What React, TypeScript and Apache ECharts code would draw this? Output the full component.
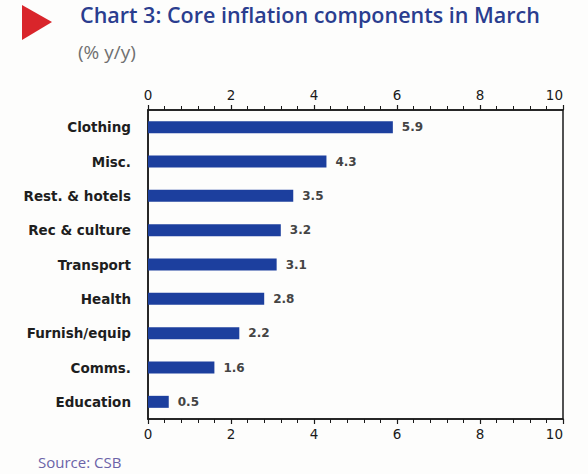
import React, { useEffect, useRef } from "react";
import * as echarts from "echarts";

const categories = ["Clothing", "Misc.", "Rest. & hotels", "Rec & culture", "Transport", "Health", "Furnish/equip", "Comms.", "Education"];
const values = [5.9, 4.3, 3.5, 3.2, 3.1, 2.8, 2.2, 1.6, 0.5];
const labels = ["5.9", "4.3", "3.5", "3.2", "3.1", "2.8", "2.2", "1.6", "0.5"];
const axisMin = 0;
const axisMax = 10;
const axisStep = 2;

export default function App() {
  const ref = useRef<HTMLDivElement>(null);
  useEffect(() => {
    const chart = echarts.init(ref.current!, null, { renderer: "svg" });
    const xAxisBase = (position: string) => ({
      type: "value",
      position,
      min: axisMin,
      max: axisMax,
      interval: axisStep,
      axisLine: { show: true, lineStyle: { color: "#1a1a1a", width: 1.5 } },
      axisTick: { show: true, length: 5, lineStyle: { color: "#1a1a1a", width: 1.2 } },
      minorTick: { show: true, splitNumber: 5, length: 4, lineStyle: { color: "#1a1a1a", width: 1 } },
      splitLine: { show: false },
      axisLabel: {
        color: "#1a1a1a",
        fontSize: 13.5,
        fontFamily: "DejaVu Sans, sans-serif",
        margin: 8,
        alignMaxLabel: "right",
      },
    });
    chart.setOption({
      animation: false,
      backgroundColor: "#fdfdfc",
      grid: {
        left: 148,
        right: 25,
        top: 110,
        bottom: 55,
        show: true,
        borderColor: "#1a1a1a",
        borderWidth: 1.5,
        backgroundColor: "transparent",
      },
      xAxis: [xAxisBase("top"), xAxisBase("bottom")],
      yAxis: {
        type: "category",
        data: categories,
        inverse: true,
        axisLine: { show: true, lineStyle: { color: "#1a1a1a", width: 1.5 } },
        axisTick: { show: false },
        axisLabel: {
          color: "#1e1e1e",
          fontSize: 13.5,
          fontWeight: "bold",
          fontFamily: "DejaVu Sans, sans-serif",
          margin: 17,
        },
      },
      series: [
        {
          type: "bar",
          data: values,
          barWidth: 12,
          itemStyle: { color: "#1c3f9e" },
          label: {
            show: true,
            position: "right",
            distance: 9,
            formatter: (p: any) => labels[p.dataIndex],
            color: "#444",
            fontSize: 12,
            fontWeight: "bold",
            fontFamily: "DejaVu Sans, sans-serif",
          },
        },
      ],
      graphic: [
        {
          type: "polygon",
          shape: { points: [[22, 5], [52, 22], [22, 40]] },
          style: { fill: "#d9252b" },
        },
        {
          type: "text",
          left: 80,
          top: 3,
          style: {
            text: "Chart 3: Core inflation components in March",
            fill: "#2a3d8f",
            fontSize: 21.5,
            fontWeight: 600,
            fontFamily: "Open Sans, sans-serif",
          },
        },
        {
          type: "text",
          left: 78,
          top: 42,
          style: {
            text: "(% y/y)",
            fill: "#707070",
            fontSize: 19,
            fontFamily: "Open Sans, sans-serif",
          },
        },
        {
          type: "text",
          left: 38,
          top: 454,
          style: {
            text: "Source: CSB",
            fill: "#6b63a8",
            fontSize: 15,
            fontFamily: "Open Sans, sans-serif",
          },
        },
      ],
    });
    return () => chart.dispose();
  }, []);
  return <div ref={ref} style={{ width: 588, height: 474, position: "absolute", left: 0, top: 0 }} />;
}
